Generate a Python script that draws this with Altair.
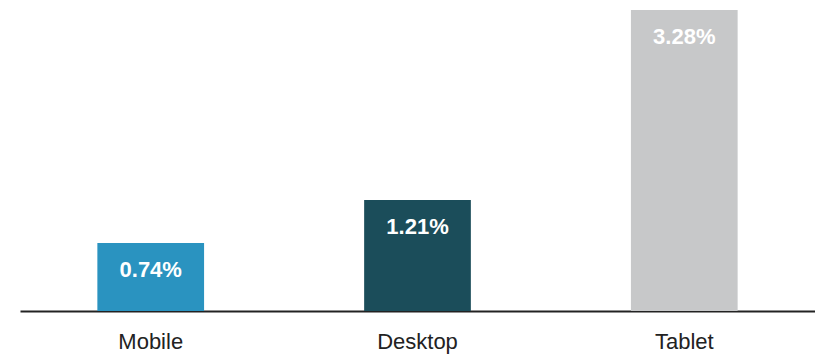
import altair as alt
import pandas as pd

categories = ["Mobile", "Desktop", "Tablet"]
values = [0.74, 1.21, 3.28]
labels = ["0.74%", "1.21%", "3.28%"]
colors = ["#2a93c0", "#1b4d5a", "#c7c8c9"]

df = pd.DataFrame({"cat": categories, "val": values, "lab": labels})

x = alt.X("cat:N", sort=categories, title=None,
          scale=alt.Scale(paddingInner=0.6, paddingOuter=0.29),
          axis=alt.Axis(labelAngle=0, labelFontSize=22, labelFont="Liberation Sans",
                        labelColor="#222222", ticks=False, labelPadding=20,
                        domainColor="#222222", domainWidth=2, grid=False))
y = alt.Y("val:Q", scale=alt.Scale(domain=[0, 3.39], nice=False, zero=True), axis=None)

bars = alt.Chart(df).mark_bar().encode(
    x=x, y=y,
    color=alt.Color("cat:N", scale=alt.Scale(domain=categories, range=colors), legend=None),
)

text = alt.Chart(df).mark_text(
    baseline="middle", dy=27, font="Liberation Sans", fontWeight="bold",
    fontSize=22, color="white"
).encode(x=alt.X("cat:N", sort=categories), y=alt.Y("val:Q"), text="lab:N")

chart = (bars + text).properties(
    width=795, height=311,
    autosize=alt.AutoSizeParams(type="none"),
    padding={"left": 20, "top": 0, "right": 0, "bottom": 48},
    background="white",
).configure_view(stroke=None, strokeWidth=0)

chart.save("out.html", embed_options={"renderer": "svg", "actions": False})
